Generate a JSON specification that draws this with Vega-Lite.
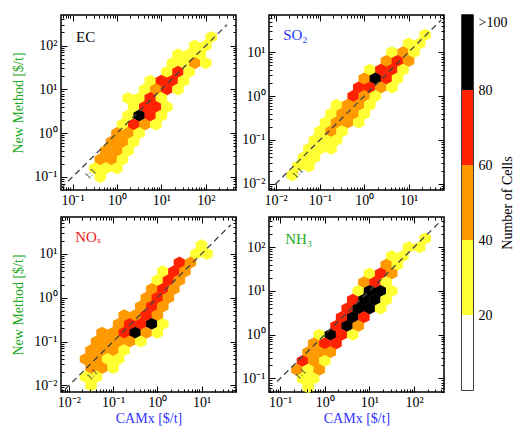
{
"$schema":"https://vega.github.io/schema/vega-lite/v6.json",
"padding":{"left":11,"top":13,"right":0,"bottom":0},
"config":{"view":{"stroke":"#000000","strokeWidth":1.5},"axis":{"domain":false,"grid":false,"labelFont":"Liberation Serif","labelFontSize":14,"labelColor":"#000000","titleFont":"Liberation Serif","titleFontSize":14,"titleFontWeight":"normal","tickColor":"#000000","tickWidth":1,"labelOverlap":false}},
"datasets":{
"ec":[{"x":133,"y":158,"n":30},{"x":56.2,"y":100,"n":30},{"x":100,"y":100,"n":30},{"x":23.7,"y":63.1,"n":30},{"x":42.2,"y":63.1,"n":30},{"x":75,"y":63.1,"n":30},{"x":17.8,"y":39.8,"n":30},{"x":31.6,"y":39.8,"n":30},{"x":56.2,"y":39.8,"n":50},{"x":100,"y":39.8,"n":30},{"x":13.3,"y":25.1,"n":30},{"x":23.7,"y":25.1,"n":70},{"x":42.2,"y":25.1,"n":30},{"x":5.62,"y":15.8,"n":30},{"x":10,"y":15.8,"n":70},{"x":17.8,"y":15.8,"n":70},{"x":31.6,"y":15.8,"n":30},{"x":4.22,"y":10,"n":30},{"x":7.5,"y":10,"n":50},{"x":13.3,"y":10,"n":70},{"x":23.7,"y":10,"n":30},{"x":1.78,"y":6.31,"n":30},{"x":3.16,"y":6.31,"n":30},{"x":5.62,"y":6.31,"n":70},{"x":10,"y":6.31,"n":30},{"x":2.37,"y":3.98,"n":30},{"x":4.22,"y":3.98,"n":70},{"x":7.5,"y":3.98,"n":70},{"x":13.3,"y":3.98,"n":30},{"x":1.78,"y":2.51,"n":30},{"x":3.16,"y":2.51,"n":90},{"x":5.62,"y":2.51,"n":70},{"x":10,"y":2.51,"n":30},{"x":1.33,"y":1.58,"n":30},{"x":2.37,"y":1.58,"n":70},{"x":4.22,"y":1.58,"n":50},{"x":7.5,"y":1.58,"n":30},{"x":1,"y":1,"n":50},{"x":1.78,"y":1,"n":50},{"x":3.16,"y":1,"n":30},{"x":0.75,"y":0.631,"n":50},{"x":1.33,"y":0.631,"n":50},{"x":2.37,"y":0.631,"n":30},{"x":0.562,"y":0.398,"n":50},{"x":1,"y":0.398,"n":50},{"x":1.78,"y":0.398,"n":30},{"x":0.422,"y":0.251,"n":50},{"x":0.75,"y":0.251,"n":50},{"x":1.33,"y":0.251,"n":30},{"x":0.316,"y":0.158,"n":30},{"x":0.562,"y":0.158,"n":30},{"x":1,"y":0.158,"n":30},{"x":0.422,"y":0.1,"n":30}],
"so2":[{"x":23.7,"y":25.1,"n":30},{"x":10,"y":15.8,"n":30},{"x":17.8,"y":15.8,"n":30},{"x":4.22,"y":10,"n":30},{"x":7.5,"y":10,"n":50},{"x":13.3,"y":10,"n":30},{"x":3.16,"y":6.31,"n":50},{"x":5.62,"y":6.31,"n":70},{"x":10,"y":6.31,"n":50},{"x":1.33,"y":3.98,"n":30},{"x":2.37,"y":3.98,"n":70},{"x":4.22,"y":3.98,"n":70},{"x":7.5,"y":3.98,"n":30},{"x":1,"y":2.51,"n":50},{"x":1.78,"y":2.51,"n":90},{"x":3.16,"y":2.51,"n":70},{"x":5.62,"y":2.51,"n":30},{"x":0.75,"y":1.58,"n":70},{"x":1.33,"y":1.58,"n":70},{"x":2.37,"y":1.58,"n":50},{"x":4.22,"y":1.58,"n":30},{"x":0.562,"y":1,"n":70},{"x":1,"y":1,"n":50},{"x":1.78,"y":1,"n":30},{"x":0.237,"y":0.631,"n":30},{"x":0.422,"y":0.631,"n":50},{"x":0.75,"y":0.631,"n":50},{"x":1.33,"y":0.631,"n":30},{"x":0.178,"y":0.398,"n":30},{"x":0.316,"y":0.398,"n":50},{"x":0.562,"y":0.398,"n":50},{"x":1,"y":0.398,"n":30},{"x":0.133,"y":0.251,"n":30},{"x":0.237,"y":0.251,"n":50},{"x":0.422,"y":0.251,"n":50},{"x":0.75,"y":0.251,"n":30},{"x":0.1,"y":0.158,"n":30},{"x":0.178,"y":0.158,"n":50},{"x":0.316,"y":0.158,"n":30},{"x":0.075,"y":0.1,"n":30},{"x":0.133,"y":0.1,"n":30},{"x":0.237,"y":0.1,"n":30},{"x":0.0562,"y":0.0631,"n":30},{"x":0.1,"y":0.0631,"n":30},{"x":0.178,"y":0.0631,"n":30},{"x":0.0422,"y":0.0398,"n":30},{"x":0.075,"y":0.0398,"n":30},{"x":0.0316,"y":0.0251,"n":30},{"x":0.0562,"y":0.0251,"n":30},{"x":0.0237,"y":0.0158,"n":30}],
"nox":[{"x":10,"y":15.8,"n":30},{"x":7.5,"y":10,"n":30},{"x":13.3,"y":10,"n":30},{"x":3.16,"y":6.31,"n":70},{"x":5.62,"y":6.31,"n":50},{"x":1.33,"y":3.98,"n":30},{"x":2.37,"y":3.98,"n":70},{"x":4.22,"y":3.98,"n":50},{"x":1,"y":2.51,"n":30},{"x":1.78,"y":2.51,"n":70},{"x":3.16,"y":2.51,"n":50},{"x":0.75,"y":1.58,"n":50},{"x":1.33,"y":1.58,"n":70},{"x":2.37,"y":1.58,"n":50},{"x":0.562,"y":1,"n":50},{"x":1,"y":1,"n":70},{"x":1.78,"y":1,"n":50},{"x":0.422,"y":0.631,"n":50},{"x":0.75,"y":0.631,"n":70},{"x":1.33,"y":0.631,"n":50},{"x":0.178,"y":0.398,"n":50},{"x":0.316,"y":0.398,"n":50},{"x":0.562,"y":0.398,"n":70},{"x":1,"y":0.398,"n":50},{"x":0.133,"y":0.251,"n":50},{"x":0.237,"y":0.251,"n":70},{"x":0.422,"y":0.251,"n":70},{"x":0.75,"y":0.251,"n":90},{"x":1.33,"y":0.251,"n":30},{"x":0.0562,"y":0.158,"n":50},{"x":0.1,"y":0.158,"n":50},{"x":0.178,"y":0.158,"n":70},{"x":0.316,"y":0.158,"n":90},{"x":0.562,"y":0.158,"n":50},{"x":1,"y":0.158,"n":30},{"x":0.0422,"y":0.1,"n":50},{"x":0.075,"y":0.1,"n":50},{"x":0.133,"y":0.1,"n":50},{"x":0.237,"y":0.1,"n":50},{"x":0.422,"y":0.1,"n":30},{"x":0.0316,"y":0.0631,"n":50},{"x":0.0562,"y":0.0631,"n":50},{"x":0.1,"y":0.0631,"n":50},{"x":0.178,"y":0.0631,"n":30},{"x":0.0237,"y":0.0398,"n":50},{"x":0.0422,"y":0.0398,"n":50},{"x":0.075,"y":0.0398,"n":30},{"x":0.133,"y":0.0398,"n":30},{"x":0.0316,"y":0.0251,"n":50},{"x":0.0562,"y":0.0251,"n":50},{"x":0.1,"y":0.0251,"n":30},{"x":0.0237,"y":0.0158,"n":30},{"x":0.0422,"y":0.0158,"n":30},{"x":0.0316,"y":0.01,"n":30}],
"nh3":[{"x":178,"y":158,"n":30},{"x":75,"y":100,"n":30},{"x":133,"y":100,"n":30},{"x":31.6,"y":63.1,"n":30},{"x":56.2,"y":63.1,"n":30},{"x":23.7,"y":39.8,"n":50},{"x":42.2,"y":39.8,"n":30},{"x":10,"y":25.1,"n":30},{"x":17.8,"y":25.1,"n":70},{"x":31.6,"y":25.1,"n":50},{"x":7.5,"y":15.8,"n":50},{"x":13.3,"y":15.8,"n":70},{"x":23.7,"y":15.8,"n":30},{"x":5.62,"y":10,"n":30},{"x":10,"y":10,"n":110},{"x":17.8,"y":10,"n":110},{"x":31.6,"y":10,"n":30},{"x":4.22,"y":6.31,"n":70},{"x":7.5,"y":6.31,"n":110},{"x":13.3,"y":6.31,"n":110},{"x":23.7,"y":6.31,"n":30},{"x":3.16,"y":3.98,"n":70},{"x":5.62,"y":3.98,"n":110},{"x":10,"y":3.98,"n":110},{"x":17.8,"y":3.98,"n":30},{"x":2.37,"y":2.51,"n":70},{"x":4.22,"y":2.51,"n":110},{"x":7.5,"y":2.51,"n":70},{"x":1.78,"y":1.58,"n":70},{"x":3.16,"y":1.58,"n":110},{"x":5.62,"y":1.58,"n":50},{"x":0.75,"y":1,"n":30},{"x":1.33,"y":1,"n":110},{"x":2.37,"y":1,"n":70},{"x":4.22,"y":1,"n":30},{"x":0.562,"y":0.631,"n":50},{"x":1,"y":0.631,"n":70},{"x":1.78,"y":0.631,"n":70},{"x":0.422,"y":0.398,"n":50},{"x":0.75,"y":0.398,"n":50},{"x":1.33,"y":0.398,"n":50},{"x":0.316,"y":0.251,"n":70},{"x":0.562,"y":0.251,"n":50},{"x":1,"y":0.251,"n":30},{"x":0.237,"y":0.158,"n":50},{"x":0.422,"y":0.158,"n":30},{"x":0.75,"y":0.158,"n":50},{"x":0.316,"y":0.1,"n":30},{"x":0.562,"y":0.1,"n":30},{"x":0.422,"y":0.0631,"n":30}],
"one":[{"p":"EC","x":0.055,"y":0.055},{"p":"EC","x":300,"y":300},{"p":"SO2","x":0.0098,"y":0.0098},{"p":"SO2","x":55,"y":55},{"p":"NOx","x":0.0082,"y":0.0082},{"p":"NOx","x":46,"y":46},{"p":"NH3","x":0.085,"y":0.085},{"p":"NH3","x":380,"y":380}],
"lbl":[{"p":"EC","x":0.12,"y":155,"t":"EC"},{"p":"SO2","x":0.0148,"y":24.5,"t":"SO₂"},{"p":"NOx","x":0.0138,"y":24,"t":"NOₓ"},{"p":"NH3","x":0.13,"y":152,"t":"NH₃"}],
"r11":[{"p":"EC","x":0.25,"y":0.12,"t":"1:1"},{"p":"SO2","x":0.031,"y":0.018,"t":"1:1"},{"p":"NOx","x":0.033,"y":0.018,"t":"1:1"},{"p":"NH3","x":0.28,"y":0.13,"t":"1:1"}],
"cb":[{"lo":0,"hi":20},{"lo":20,"hi":40},{"lo":40,"hi":60},{"lo":60,"hi":80},{"lo":80,"hi":100}]
},
"hconcat":[
{"vconcat":[
{"hconcat":[
{"width":175,"height":175,"resolve":{"axis":{"x":"independent","y":"independent"}},"layer":[
{"data":{"name":"ec"},"mark":{"type":"point","shape":"M0,-1.05L1,-0.52L1,0.52L0,1.05L-1,0.52L-1,-0.52Z","filled":true,"size":132,"opacity":1,"strokeWidth":0},
"encoding":{"x":{"field":"x","type":"quantitative","scale":{"type":"log","domain":[0.055,479],"nice":false},"axis":{"orient":"bottom","values":[0.1,1,10,100],"labelExpr":"datum.value < 0.05 ? '10⁻²' : datum.value < 0.5 ? '10⁻¹' : datum.value < 5 ? '10⁰' : datum.value < 50 ? '10¹' : '10²'","tickSize":-6,"labelPadding":9,"title":null,"zindex":1}},
"y":{"field":"y","type":"quantitative","scale":{"type":"log","domain":[0.0501,501],"nice":false},"axis":{"orient":"left","values":[0.1,1,10,100],"labelExpr":"datum.value < 0.05 ? '10⁻²' : datum.value < 0.5 ? '10⁻¹' : datum.value < 5 ? '10⁰' : datum.value < 50 ? '10¹' : '10²'","tickSize":-6,"labelPadding":10,"title":"New Method [$/t]","titleColor":"#22aa22","titlePadding":8,"zindex":1}},
"color":{"field":"n","type":"quantitative","scale":{"type":"threshold","domain":[20,40,60,80],"range":["#ffffff","#ffff33","#ff9900","#ff2200","#000000"]},"legend":null}}},
{"data":{"name":"one"},"transform":[{"filter":"datum.p == 'EC'"}],"mark":{"type":"line","color":"#444444","strokeDash":[6,4],"strokeWidth":1.3},
"encoding":{"x":{"field":"x","type":"quantitative","axis":{"orient":"top","values":[0.1,1,10,100],"labels":false,"tickSize":-6,"title":null,"zindex":1}},"y":{"field":"y","type":"quantitative","axis":{"orient":"right","values":[0.1,1,10,100],"labels":false,"tickSize":-6,"title":null,"zindex":1}}}},
{"data":{"name":"lbl"},"transform":[{"filter":"datum.p == 'EC'"}],"mark":{"type":"text","align":"left","baseline":"middle","fontSize":15,"font":"Liberation Serif","color":"#000000"},
"encoding":{"x":{"field":"x","type":"quantitative","axis":{"orient":"bottom","values":[0.06,0.07,0.08,0.09,0.2,0.3,0.4,0.5,0.6,0.7,0.8,0.9,2,3,4,5,6,7,8,9,20,30,40,50,60,70,80,90,200,300,400],"labels":false,"tickSize":-3,"title":null,"zindex":1}},"y":{"field":"y","type":"quantitative","axis":{"orient":"left","values":[0.06,0.07,0.08,0.09,0.2,0.3,0.4,0.5,0.6,0.7,0.8,0.9,2,3,4,5,6,7,8,9,20,30,40,50,60,70,80,90,200,300,400],"labels":false,"tickSize":-3,"title":null,"zindex":1}},"text":{"field":"t"}}},
{"data":{"name":"r11"},"transform":[{"filter":"datum.p == 'EC'"}],"mark":{"type":"text","angle":315,"fontSize":9,"font":"Liberation Serif","color":"#444444"},
"encoding":{"x":{"field":"x","type":"quantitative","axis":{"orient":"top","values":[0.06,0.07,0.08,0.09,0.2,0.3,0.4,0.5,0.6,0.7,0.8,0.9,2,3,4,5,6,7,8,9,20,30,40,50,60,70,80,90,200,300,400],"labels":false,"tickSize":-3,"title":null,"zindex":1}},"y":{"field":"y","type":"quantitative","axis":{"orient":"right","values":[0.06,0.07,0.08,0.09,0.2,0.3,0.4,0.5,0.6,0.7,0.8,0.9,2,3,4,5,6,7,8,9,20,30,40,50,60,70,80,90,200,300,400],"labels":false,"tickSize":-3,"title":null,"zindex":1}},"text":{"field":"t"}}}
]},
{"width":175,"height":175,"resolve":{"axis":{"x":"independent","y":"independent"}},"layer":[
{"data":{"name":"so2"},"mark":{"type":"point","shape":"M0,-1.05L1,-0.52L1,0.52L0,1.05L-1,0.52L-1,-0.52Z","filled":true,"size":132,"opacity":1,"strokeWidth":0},
"encoding":{"x":{"field":"x","type":"quantitative","scale":{"type":"log","domain":[0.00708,63.1],"nice":false},"axis":{"orient":"bottom","values":[0.01,0.1,1,10],"labelExpr":"datum.value < 0.05 ? '10⁻²' : datum.value < 0.5 ? '10⁻¹' : datum.value < 5 ? '10⁰' : datum.value < 50 ? '10¹' : '10²'","tickSize":-6,"labelPadding":9,"title":null,"zindex":1}},
"y":{"field":"y","type":"quantitative","scale":{"type":"log","domain":[0.00724,70.8],"nice":false},"axis":{"orient":"left","values":[0.01,0.1,1,10],"labelExpr":"datum.value < 0.05 ? '10⁻²' : datum.value < 0.5 ? '10⁻¹' : datum.value < 5 ? '10⁰' : datum.value < 50 ? '10¹' : '10²'","tickSize":-6,"labelPadding":10,"title":null,"zindex":1}},
"color":{"field":"n","type":"quantitative","scale":{"type":"threshold","domain":[20,40,60,80],"range":["#ffffff","#ffff33","#ff9900","#ff2200","#000000"]},"legend":null}}},
{"data":{"name":"one"},"transform":[{"filter":"datum.p == 'SO2'"}],"mark":{"type":"line","color":"#444444","strokeDash":[6,4],"strokeWidth":1.3},
"encoding":{"x":{"field":"x","type":"quantitative","axis":{"orient":"top","values":[0.01,0.1,1,10],"labels":false,"tickSize":-6,"title":null,"zindex":1}},"y":{"field":"y","type":"quantitative","axis":{"orient":"right","values":[0.01,0.1,1,10],"labels":false,"tickSize":-6,"title":null,"zindex":1}}}},
{"data":{"name":"lbl"},"transform":[{"filter":"datum.p == 'SO2'"}],"mark":{"type":"text","align":"left","baseline":"middle","fontSize":15,"font":"Liberation Serif","color":"#2233ee"},
"encoding":{"x":{"field":"x","type":"quantitative","axis":{"orient":"bottom","values":[0.008,0.009,0.02,0.03,0.04,0.05,0.06,0.07,0.08,0.09,0.2,0.3,0.4,0.5,0.6,0.7,0.8,0.9,2,3,4,5,6,7,8,9,20,30,40,50,60],"labels":false,"tickSize":-3,"title":null,"zindex":1}},"y":{"field":"y","type":"quantitative","axis":{"orient":"left","values":[0.008,0.009,0.02,0.03,0.04,0.05,0.06,0.07,0.08,0.09,0.2,0.3,0.4,0.5,0.6,0.7,0.8,0.9,2,3,4,5,6,7,8,9,20,30,40,50,60,70],"labels":false,"tickSize":-3,"title":null,"zindex":1}},"text":{"field":"t"}}},
{"data":{"name":"r11"},"transform":[{"filter":"datum.p == 'SO2'"}],"mark":{"type":"text","angle":315,"fontSize":9,"font":"Liberation Serif","color":"#444444"},
"encoding":{"x":{"field":"x","type":"quantitative","axis":{"orient":"top","values":[0.008,0.009,0.02,0.03,0.04,0.05,0.06,0.07,0.08,0.09,0.2,0.3,0.4,0.5,0.6,0.7,0.8,0.9,2,3,4,5,6,7,8,9,20,30,40,50,60],"labels":false,"tickSize":-3,"title":null,"zindex":1}},"y":{"field":"y","type":"quantitative","axis":{"orient":"right","values":[0.008,0.009,0.02,0.03,0.04,0.05,0.06,0.07,0.08,0.09,0.2,0.3,0.4,0.5,0.6,0.7,0.8,0.9,2,3,4,5,6,7,8,9,20,30,40,50,60,70],"labels":false,"tickSize":-3,"title":null,"zindex":1}},"text":{"field":"t"}}}
]}
],"spacing":33,"bounds":"flush"},
{"hconcat":[
{"width":175,"height":175,"resolve":{"axis":{"x":"independent","y":"independent"}},"layer":[
{"data":{"name":"nox"},"mark":{"type":"point","shape":"M0,-1.05L1,-0.52L1,0.52L0,1.05L-1,0.52L-1,-0.52Z","filled":true,"size":132,"opacity":1,"strokeWidth":0},
"encoding":{"x":{"field":"x","type":"quantitative","scale":{"type":"log","domain":[0.00661,60.3],"nice":false},"axis":{"orient":"bottom","values":[0.01,0.1,1,10],"labelExpr":"datum.value < 0.05 ? '10⁻²' : datum.value < 0.5 ? '10⁻¹' : datum.value < 5 ? '10⁰' : datum.value < 50 ? '10¹' : '10²'","tickSize":-6,"labelPadding":9,"title":"CAMx [$/t]","titleColor":"#3333ff","titlePadding":2,"zindex":1}},
"y":{"field":"y","type":"quantitative","scale":{"type":"log","domain":[0.00708,69.2],"nice":false},"axis":{"orient":"left","values":[0.01,0.1,1,10],"labelExpr":"datum.value < 0.05 ? '10⁻²' : datum.value < 0.5 ? '10⁻¹' : datum.value < 5 ? '10⁰' : datum.value < 50 ? '10¹' : '10²'","tickSize":-6,"labelPadding":10,"title":"New Method [$/t]","titleColor":"#22aa22","titlePadding":8,"zindex":1}},
"color":{"field":"n","type":"quantitative","scale":{"type":"threshold","domain":[20,40,60,80],"range":["#ffffff","#ffff33","#ff9900","#ff2200","#000000"]},"legend":null}}},
{"data":{"name":"one"},"transform":[{"filter":"datum.p == 'NOx'"}],"mark":{"type":"line","color":"#444444","strokeDash":[6,4],"strokeWidth":1.3},
"encoding":{"x":{"field":"x","type":"quantitative","axis":{"orient":"top","values":[0.01,0.1,1,10],"labels":false,"tickSize":-6,"title":null,"zindex":1}},"y":{"field":"y","type":"quantitative","axis":{"orient":"right","values":[0.01,0.1,1,10],"labels":false,"tickSize":-6,"title":null,"zindex":1}}}},
{"data":{"name":"lbl"},"transform":[{"filter":"datum.p == 'NOx'"}],"mark":{"type":"text","align":"left","baseline":"middle","fontSize":15,"font":"Liberation Serif","color":"#ee2222"},
"encoding":{"x":{"field":"x","type":"quantitative","axis":{"orient":"bottom","values":[0.007,0.008,0.009,0.02,0.03,0.04,0.05,0.06,0.07,0.08,0.09,0.2,0.3,0.4,0.5,0.6,0.7,0.8,0.9,2,3,4,5,6,7,8,9,20,30,40,50,60],"labels":false,"tickSize":-3,"title":null,"zindex":1}},"y":{"field":"y","type":"quantitative","axis":{"orient":"left","values":[0.008,0.009,0.02,0.03,0.04,0.05,0.06,0.07,0.08,0.09,0.2,0.3,0.4,0.5,0.6,0.7,0.8,0.9,2,3,4,5,6,7,8,9,20,30,40,50,60],"labels":false,"tickSize":-3,"title":null,"zindex":1}},"text":{"field":"t"}}},
{"data":{"name":"r11"},"transform":[{"filter":"datum.p == 'NOx'"}],"mark":{"type":"text","angle":315,"fontSize":9,"font":"Liberation Serif","color":"#444444"},
"encoding":{"x":{"field":"x","type":"quantitative","axis":{"orient":"top","values":[0.007,0.008,0.009,0.02,0.03,0.04,0.05,0.06,0.07,0.08,0.09,0.2,0.3,0.4,0.5,0.6,0.7,0.8,0.9,2,3,4,5,6,7,8,9,20,30,40,50,60],"labels":false,"tickSize":-3,"title":null,"zindex":1}},"y":{"field":"y","type":"quantitative","axis":{"orient":"right","values":[0.008,0.009,0.02,0.03,0.04,0.05,0.06,0.07,0.08,0.09,0.2,0.3,0.4,0.5,0.6,0.7,0.8,0.9,2,3,4,5,6,7,8,9,20,30,40,50,60],"labels":false,"tickSize":-3,"title":null,"zindex":1}},"text":{"field":"t"}}}
]},
{"width":175,"height":175,"resolve":{"axis":{"x":"independent","y":"independent"}},"layer":[
{"data":{"name":"nh3"},"mark":{"type":"point","shape":"M0,-1.05L1,-0.52L1,0.52L0,1.05L-1,0.52L-1,-0.52Z","filled":true,"size":132,"opacity":1,"strokeWidth":0},
"encoding":{"x":{"field":"x","type":"quantitative","scale":{"type":"log","domain":[0.0562,468],"nice":false},"axis":{"orient":"bottom","values":[0.1,1,10,100],"labelExpr":"datum.value < 0.05 ? '10⁻²' : datum.value < 0.5 ? '10⁻¹' : datum.value < 5 ? '10⁰' : datum.value < 50 ? '10¹' : '10²'","tickSize":-6,"labelPadding":9,"title":"CAMx [$/t]","titleColor":"#3333ff","titlePadding":2,"zindex":1}},
"y":{"field":"y","type":"quantitative","scale":{"type":"log","domain":[0.049,490],"nice":false},"axis":{"orient":"left","values":[0.1,1,10,100],"labelExpr":"datum.value < 0.05 ? '10⁻²' : datum.value < 0.5 ? '10⁻¹' : datum.value < 5 ? '10⁰' : datum.value < 50 ? '10¹' : '10²'","tickSize":-6,"labelPadding":10,"title":null,"zindex":1}},
"color":{"field":"n","type":"quantitative","scale":{"type":"threshold","domain":[20,40,60,80],"range":["#ffffff","#ffff33","#ff9900","#ff2200","#000000"]},"legend":null}}},
{"data":{"name":"one"},"transform":[{"filter":"datum.p == 'NH3'"}],"mark":{"type":"line","color":"#444444","strokeDash":[6,4],"strokeWidth":1.3},
"encoding":{"x":{"field":"x","type":"quantitative","axis":{"orient":"top","values":[0.1,1,10,100],"labels":false,"tickSize":-6,"title":null,"zindex":1}},"y":{"field":"y","type":"quantitative","axis":{"orient":"right","values":[0.1,1,10,100],"labels":false,"tickSize":-6,"title":null,"zindex":1}}}},
{"data":{"name":"lbl"},"transform":[{"filter":"datum.p == 'NH3'"}],"mark":{"type":"text","align":"left","baseline":"middle","fontSize":15,"font":"Liberation Serif","color":"#22aa22"},
"encoding":{"x":{"field":"x","type":"quantitative","axis":{"orient":"bottom","values":[0.06,0.07,0.08,0.09,0.2,0.3,0.4,0.5,0.6,0.7,0.8,0.9,2,3,4,5,6,7,8,9,20,30,40,50,60,70,80,90,200,300,400],"labels":false,"tickSize":-3,"title":null,"zindex":1}},"y":{"field":"y","type":"quantitative","axis":{"orient":"left","values":[0.05,0.06,0.07,0.08,0.09,0.2,0.3,0.4,0.5,0.6,0.7,0.8,0.9,2,3,4,5,6,7,8,9,20,30,40,50,60,70,80,90,200,300,400],"labels":false,"tickSize":-3,"title":null,"zindex":1}},"text":{"field":"t"}}},
{"data":{"name":"r11"},"transform":[{"filter":"datum.p == 'NH3'"}],"mark":{"type":"text","angle":315,"fontSize":9,"font":"Liberation Serif","color":"#444444"},
"encoding":{"x":{"field":"x","type":"quantitative","axis":{"orient":"top","values":[0.06,0.07,0.08,0.09,0.2,0.3,0.4,0.5,0.6,0.7,0.8,0.9,2,3,4,5,6,7,8,9,20,30,40,50,60,70,80,90,200,300,400],"labels":false,"tickSize":-3,"title":null,"zindex":1}},"y":{"field":"y","type":"quantitative","axis":{"orient":"right","values":[0.05,0.06,0.07,0.08,0.09,0.2,0.3,0.4,0.5,0.6,0.7,0.8,0.9,2,3,4,5,6,7,8,9,20,30,40,50,60,70,80,90,200,300,400],"labels":false,"tickSize":-3,"title":null,"zindex":1}},"text":{"field":"t"}}}
]}
],"spacing":33,"bounds":"flush"}
],"spacing":7},
{"width":11,"height":375,"data":{"name":"cb"},"mark":{"type":"rect"},
"encoding":{"y":{"field":"lo","type":"quantitative","scale":{"domain":[0,100],"nice":false},"axis":{"orient":"right","values":[0,20,40,60,80,100],"labelExpr":"datum.value == 100 ? '>100' : datum.value == 0 ? '' : datum.label","labelFlush":true,"ticks":false,"labelPadding":5,"title":"Number of Cells","titleAngle":270,"titlePadding":8}},
"y2":{"field":"hi"},
"color":{"field":"lo","type":"quantitative","scale":{"type":"threshold","domain":[20,40,60,80],"range":["#ffffff","#ffff33","#ff9900","#ff2200","#000000"]},"legend":null}}}
],
"spacing":15
}
